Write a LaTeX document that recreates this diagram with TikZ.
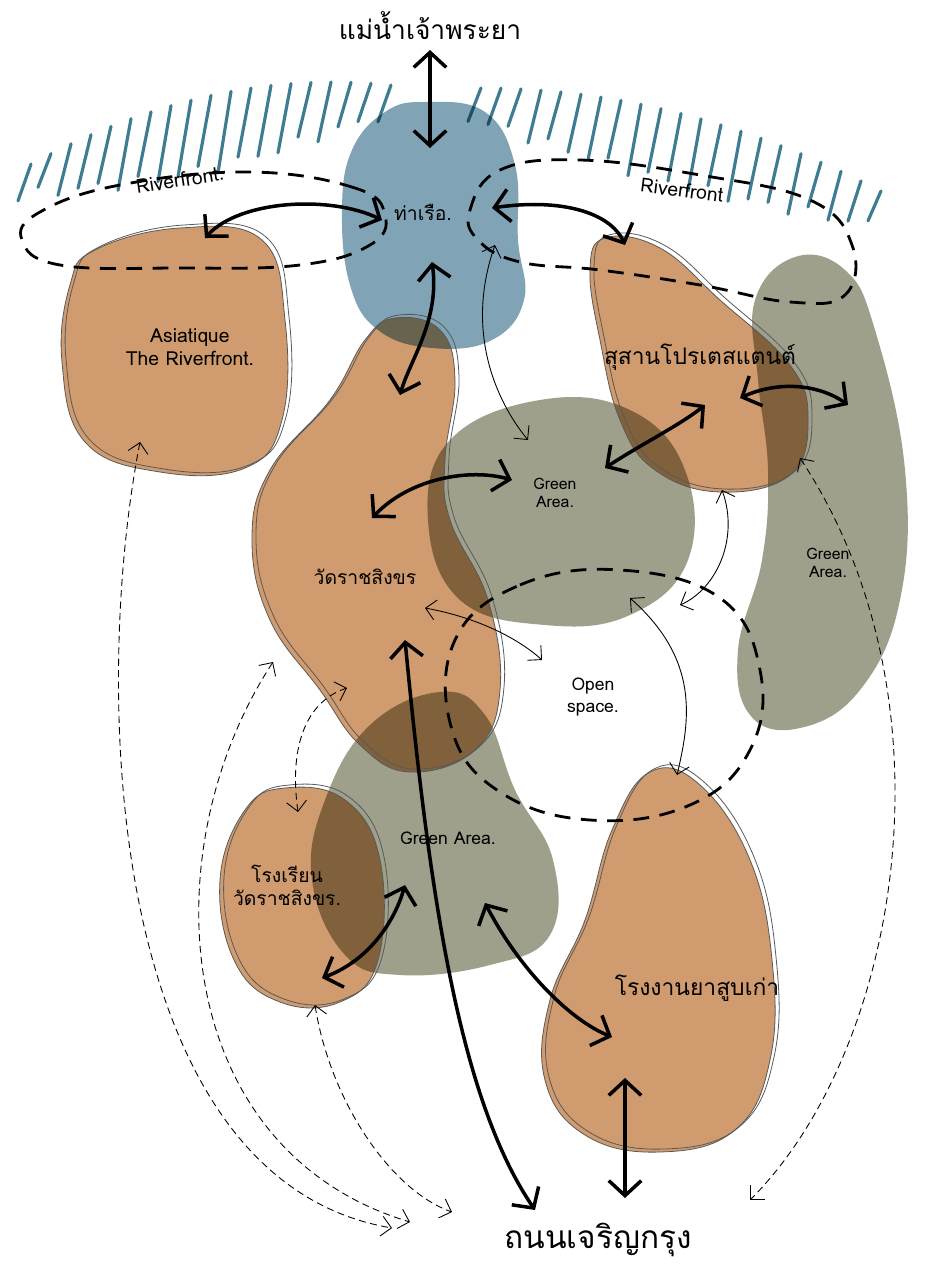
\documentclass[tikz,border=0pt]{standalone}
\usepackage{fontspec}
\setmainfont{Loma}[Script=Thai]
\usepackage{tikz}
\usetikzlibrary{arrows.meta,positioning,calc}
\definecolor{riverteal}{RGB}{62,124,146}
\definecolor{pierblue}{RGB}{128,163,181}
\definecolor{clayorange}{RGB}{207,155,111}
\definecolor{sagegreen}{RGB}{158,160,140}

% blob outlines
\newcommand\pierShape{plot[smooth cycle,tension=0.7] coordinates {(425,102) (485,112) (515,165) (518,240) (524,300) (492,340) (432,348) (378,330) (350,285) (342,210) (352,150) (385,112)}}
\newcommand\asiaShape{plot[smooth cycle,tension=0.7] coordinates {(95,250) (180,228) (262,240) (285,320) (282,420) (245,468) (160,472) (85,442) (62,362) (70,285)}}
\newcommand\watShape{plot[smooth cycle,tension=0.7] coordinates {(395,318) (440,330) (455,380) (445,460) (450,520) (488,600) (500,690) (475,750) (410,772) (360,745) (320,690) (270,620) (252,540) (270,470) (330,400) (365,340)}}
\newcommand\cemShape{plot[smooth cycle,tension=0.7] coordinates {(605,238) (660,248) (720,300) (790,365) (808,420) (790,475) (720,492) (655,470) (620,420) (600,340) (590,270)}}
\newcommand\schoolShape{plot[smooth cycle,tension=0.7] coordinates {(285,788) (345,800) (380,860) (378,960) (340,1002) (280,1002) (235,962) (220,880) (245,810)}}
\newcommand\factShape{plot[smooth cycle,tension=0.7] coordinates {(650,772) (700,785) (750,860) (772,960) (770,1060) (735,1130) (660,1152) (585,1135) (545,1080) (550,1000) (585,920) (612,830)}}
\newcommand\greenMidShape{plot[smooth cycle,tension=0.7] coordinates {(540,400) (630,410) (685,470) (688,560) (630,615) (545,625) (460,600) (428,520) (450,440)}}
\newcommand\greenRightShape{plot[smooth cycle,tension=0.7] coordinates {(795,257) (845,270) (875,330) (905,470) (900,600) (860,690) (800,728) (750,715) (738,650) (762,560) (768,470) (758,380) (755,300)}}
\newcommand\greenLowShape{plot[smooth cycle,tension=0.7] coordinates {(440,692) (485,715) (515,790) (553,860) (550,935) (490,965) (400,975) (345,955) (312,880) (325,800) (370,725)}}

\tikzset{
  orangeblob/.style={fill=clayorange},
  greenblob/.style={fill=sagegreen,blend mode=multiply},
  pierblob/.style={fill=pierblue,blend mode=multiply},
  sketchline/.style={draw=black!65,line width=0.45pt},
  hatch/.style={draw=riverteal,line width=1.8pt,line cap=round},
  riverloop/.style={draw=black,line width=1.6pt,dash pattern=on 9pt off 6pt},
  bigarrow/.style={draw=black,line width=2pt,line cap=round,
    {Straight Barb[length=3mm,width=6.5mm]}-{Straight Barb[length=3mm,width=6.5mm]}},
  thinarrow/.style={draw=black,line width=0.5pt,
    {Straight Barb[length=2mm,width=4mm]}-{Straight Barb[length=2mm,width=4mm]}},
  dasharrow/.style={draw=black,line width=0.5pt,dash pattern=on 4pt off 2.5pt,
    {Straight Barb[length=2mm,width=4mm]}-{Straight Barb[length=2mm,width=4mm]}},
  place/.style={align=center,inner sep=1pt,font=\fontsize{11}{13}\selectfont},
  smallplace/.style={align=center,inner sep=1pt,font=\fontsize{9}{10}\selectfont}
}

\begin{document}
\begin{tikzpicture}[x=0.02cm,y=-0.02cm]
  \useasboundingbox (0,0) rectangle (937,1271);
  \fill[white] (0,0) rectangle (937,1271);

  % river hatching
  \foreach \x in {18,38,...,378} {
    \pgfmathsetmacro\ytop{82+0.09*((\x-320)/10)^2}
    \pgfmathsetmacro\ylen{28+48*sin((\x-8)/380*180)+6*sin(\x*7)}
    \draw[hatch] (\x,\ytop+\ylen) -- (\x+13,\ytop);
  }
  \foreach \x in {468,488,...,878} {
    \pgfmathsetmacro\ytop{88+0.065*((\x-470)/10)^2}
    \pgfmathsetmacro\ylen{26+42*sin((\x-455)/440*180)+6*sin(\x*7)}
    \draw[hatch] (\x,\ytop+\ylen) -- (\x+13,\ytop);
  }

  % places
  \fill[orangeblob] \asiaShape;
  \fill[orangeblob] \watShape;
  \fill[orangeblob] \cemShape;
  \fill[orangeblob] \schoolShape;
  \fill[orangeblob] \factShape;
  \fill[pierblob] \pierShape;
  \fill[greenblob] \greenMidShape;
  \fill[greenblob] \greenRightShape;
  \fill[greenblob] \greenLowShape;
  \foreach \s in {\asiaShape,\watShape,\cemShape,\schoolShape,\factShape} {
    \draw[sketchline] \s;
    \draw[sketchline,shift={(4,-3)}] \s;
  }

  % riverfront and open space loops
  \draw[riverloop] plot[smooth cycle,tension=0.7] coordinates {(385,215) (355,188) (250,172) (120,185) (40,212) (22,240) (60,265) (180,268) (300,265) (370,245)};
  \draw[riverloop] plot[smooth cycle,tension=0.7] coordinates {(470,210) (500,170) (580,160) (700,175) (810,200) (852,245) (845,295) (790,302) (700,285) (600,270) (520,262) (478,240)};
  \draw[riverloop] plot[smooth cycle,tension=0.7] coordinates {(455,640) (520,585) (620,570) (720,598) (760,670) (750,750) (690,805) (590,820) (500,792) (452,730)};

  % labels
  \node[place,font=\fontsize{15}{18}\selectfont] (riverLbl) at (430,26) {แม่น้ำเจ้าพระยา};
  \node[place] (pierLbl) at (423,212) {ท่าเรือ.};
  \node[place,rotate=9] (rfLeft) at (180,180) {Riverfront.};
  \node[place,rotate=-7] (rfRight) at (682,190) {Riverfront};
  \node[place] (asiaLbl) at (190,347) {Asiatique\\The Riverfront.};
  \node[place,font=\fontsize{13}{15}\selectfont] (cemLbl) at (700,357) {สุสานโปรเตสแตนต์};
  \node[place] (watLbl) at (365,577) {วัดราชสิงขร};
  \node[smallplace] (greenMid) at (555,493) {Green\\Area.};
  \node[smallplace] (greenRight) at (828,563) {Green\\Area.};
  \node[place,font=\fontsize{10}{12}\selectfont] (openLbl) at (593,697) {Open\\space.};
  \node[place,font=\fontsize{10}{12}\selectfont] (greenLow) at (448,838) {Green Area.};
  \node[place] (schoolLbl) at (287,885) {โรงเรียน\\วัดราชสิงขร.};
  \node[place,font=\fontsize{13}{15}\selectfont] (factLbl) at (697,988) {โรงงานยาสูบเก่า};
  \node[place,font=\fontsize{18}{20}\selectfont] (roadLbl) at (598,1240) {ถนนเจริญกรุง};

  % arrow ends
  \coordinate (riverS) at (430,50);
  \coordinate (pierN) at (430,148);
  \coordinate (pierW) at (382,220);
  \coordinate (asiaNE) at (205,238);
  \coordinate (pierE) at (492,208);
  \coordinate (cemNW) at (625,245);
  \coordinate (pierS) at (432,262);
  \coordinate (watN) at (400,395);
  \coordinate (watE) at (372,518);
  \coordinate (greenW) at (512,480);
  \coordinate (greenE) at (605,468);
  \coordinate (cemS) at (705,405);
  \coordinate (cemE) at (740,398);
  \coordinate (rightW) at (848,405);
  \coordinate (watS) at (405,640);
  \coordinate (roadW) at (535,1210);
  \coordinate (schoolE) at (322,978);
  \coordinate (lowW) at (405,885);
  \coordinate (lowE) at (485,903);
  \coordinate (factW) at (612,1037);
  \coordinate (factS) at (625,1078);
  \coordinate (roadE) at (625,1198);
  \coordinate (pierSE) at (495,245);
  \coordinate (greenN) at (528,440);
  \coordinate (watSE) at (425,608);
  \coordinate (openW) at (542,660);
  \coordinate (greenS) at (630,598);
  \coordinate (openSE) at (677,775);
  \coordinate (cemSW) at (722,490);
  \coordinate (openNE) at (680,605);
  \coordinate (asiaS) at (140,442);
  \coordinate (roadA) at (392,1228);
  \coordinate (watW) at (273,662);
  \coordinate (roadB) at (410,1222);
  \coordinate (schoolN) at (298,812);
  \coordinate (watSW) at (347,688);
  \coordinate (schoolS) at (315,1005);
  \coordinate (roadC) at (452,1212);
  \coordinate (cemSE) at (800,458);
  \coordinate (roadD) at (750,1200);

  % main links
  \draw[bigarrow] (riverS) -- (pierN);
  \draw[bigarrow] (pierW) .. controls (330,195) and (240,200) .. (asiaNE);
  \draw[bigarrow] (pierE) .. controls (560,198) and (610,212) .. (cemNW);
  \draw[bigarrow] (pierS) .. controls (440,320) and (410,360) .. (watN);
  \draw[bigarrow] (watE) .. controls (410,478) and (470,468) .. (greenW);
  \draw[bigarrow] (greenE) .. controls (640,445) and (680,425) .. (cemS);
  \draw[bigarrow] (cemE) .. controls (780,380) and (820,385) .. (rightW);
  \draw[bigarrow] (watS) .. controls (430,900) and (460,1100) .. (roadW);
  \draw[bigarrow] (schoolE) .. controls (370,960) and (395,920) .. (lowW);
  \draw[bigarrow] (lowE) .. controls (520,970) and (570,1020) .. (factW);
  \draw[bigarrow] (factS) -- (roadE);

  % minor links
  \draw[thinarrow] (pierSE) .. controls (465,330) and (495,400) .. (greenN);
  \draw[thinarrow] (watSE) .. controls (480,618) and (520,640) .. (openW);
  \draw[thinarrow] (greenS) .. controls (700,660) and (690,720) .. (openSE);
  \draw[thinarrow] (cemSW) .. controls (740,540) and (715,590) .. (openNE);

  % walking routes
  \draw[dasharrow] (asiaS) .. controls (90,700) and (110,1180) .. (roadA);
  \draw[dasharrow] (watW) .. controls (150,850) and (170,1150) .. (roadB);
  \draw[dasharrow] (schoolN) .. controls (288,740) and (310,700) .. (watSW);
  \draw[dasharrow] (schoolS) .. controls (330,1100) and (390,1190) .. (roadC);
  \draw[dasharrow] (cemSE) .. controls (960,700) and (900,1050) .. (roadD);
\end{tikzpicture}
\end{document}
